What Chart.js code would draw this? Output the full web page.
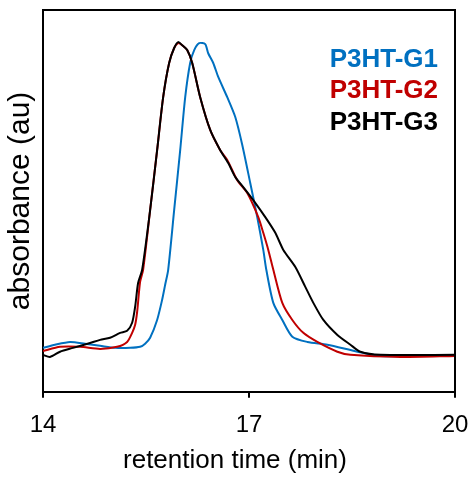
<!DOCTYPE html>
<html>
<head>
<meta charset="utf-8">
<script src="https://cdn.jsdelivr.net/npm/chart.js@4.4.1/dist/chart.umd.min.js"></script>
<style>
  html, body { margin: 0; padding: 0; background: #fff; }
  #wrap { width: 470px; height: 477px; position: relative; }
</style>
</head>
<body>
<div id="wrap"><canvas id="c" width="470" height="477"></canvas></div>
<script>
// ---- data (retention time in min, normalized absorbance) ----
const seriesNames = ['P3HT-G1', 'P3HT-G2', 'P3HT-G3'];
const xTickValues = [14, 17, 20];
const xTitle = 'retention time (min)';
const yTitle = 'absorbance (au)';

const g1Time = [14.000, 14.175, 14.394, 14.612, 14.831, 15.050, 15.269, 15.414, 15.487, 15.560, 15.662, 15.735, 15.779, 15.823, 15.910, 15.998, 16.071, 16.143, 16.202, 16.275, 16.362, 16.406, 16.479, 16.552, 16.683, 16.800, 16.902, 17.018, 17.120, 17.208, 17.252, 17.354, 17.485, 17.631, 17.850, 18.141, 18.579, 18.914, 19.497, 20.000];
const g1Abs  = [0.126, 0.135, 0.143, 0.138, 0.132, 0.126, 0.126, 0.129, 0.138, 0.155, 0.206, 0.264, 0.307, 0.350, 0.521, 0.693, 0.845, 0.943, 0.980, 1.000, 0.997, 0.971, 0.943, 0.903, 0.845, 0.788, 0.708, 0.599, 0.501, 0.407, 0.350, 0.255, 0.206, 0.158, 0.143, 0.135, 0.115, 0.103, 0.103, 0.103];

const g2Time = [14.000, 14.248, 14.540, 14.831, 15.079, 15.225, 15.298, 15.342, 15.371, 15.414, 15.458, 15.560, 15.662, 15.750, 15.837, 15.910, 15.969, 16.027, 16.100, 16.173, 16.289, 16.435, 16.581, 16.683, 16.829, 16.975, 17.135, 17.208, 17.281, 17.354, 17.485, 17.631, 17.791, 17.995, 18.287, 18.477, 19.206, 20.000];
const g2Abs  = [0.117, 0.129, 0.129, 0.123, 0.129, 0.143, 0.169, 0.192, 0.229, 0.315, 0.350, 0.521, 0.693, 0.845, 0.943, 0.986, 1.000, 0.994, 0.980, 0.943, 0.845, 0.751, 0.693, 0.665, 0.607, 0.570, 0.501, 0.456, 0.407, 0.350, 0.255, 0.206, 0.169, 0.143, 0.115, 0.106, 0.100, 0.103];

const g3Time = [14.000, 14.102, 14.248, 14.437, 14.685, 14.831, 14.977, 15.123, 15.225, 15.298, 15.342, 15.385, 15.444, 15.560, 15.662, 15.750, 15.837, 15.910, 15.969, 16.027, 16.100, 16.173, 16.289, 16.435, 16.581, 16.698, 16.800, 16.916, 17.091, 17.237, 17.383, 17.500, 17.675, 17.820, 17.937, 18.083, 18.287, 18.477, 18.622, 18.914, 20.000];
const g3Abs  = [0.106, 0.100, 0.115, 0.126, 0.140, 0.149, 0.155, 0.169, 0.175, 0.198, 0.244, 0.312, 0.350, 0.521, 0.693, 0.845, 0.943, 0.986, 1.003, 0.994, 0.980, 0.943, 0.845, 0.751, 0.693, 0.656, 0.616, 0.587, 0.542, 0.501, 0.456, 0.407, 0.358, 0.301, 0.255, 0.206, 0.163, 0.135, 0.115, 0.106, 0.106];

const colors = ['#0070C0', '#C00000', '#000000'];
const FONT = '"Liberation Sans", Arial, sans-serif';

function pts(t, a) { return t.map((v, i) => ({ x: v, y: a[i] })); }

const datasets = [
  [g1Time, g1Abs], [g2Time, g2Abs], [g3Time, g3Abs]
].map((s, i) => ({
  label: seriesNames[i],
  data: pts(s[0], s[1]),
  borderColor: colors[i],
  backgroundColor: colors[i],
  borderWidth: 2,
  pointRadius: 0,
  fill: false,
  tension: 0.25
}));
datasets.reverse();

const framePlugin = {
  id: 'frame',
  afterDraw(chart) {
    const { ctx, chartArea: a } = chart;
    ctx.save();
    ctx.strokeStyle = '#000';
    ctx.lineWidth = 2;
    ctx.beginPath();
    ctx.moveTo(a.left, a.top);
    ctx.lineTo(a.right, a.top);
    ctx.lineTo(a.right, a.bottom);
    ctx.stroke();
    ctx.font = 'bold 26px ' + FONT;
    ctx.textAlign = 'right';
    ctx.textBaseline = 'alphabetic';
    const ys = [67, 98, 130];
    seriesNames.forEach((n, i) => {
      ctx.fillStyle = colors[i];
      ctx.fillText(n, 438, ys[i]);
    });
    ctx.restore();
  }
};

new Chart(document.getElementById('c'), {
  type: 'line',
  data: { datasets },
  options: {
    responsive: false,
    animation: false,
    events: [],
    layout: { padding: { top: 10, left: 0, right: 0, bottom: 0 } },
    plugins: {
      legend: { display: false },
      tooltip: { enabled: false },
      title: {
        display: true,
        position: 'bottom',
        text: xTitle,
        color: '#000',
        font: { family: FONT, size: 26, weight: 'normal' },
        padding: { top: 0, bottom: 1 }
      }
    },
    scales: {
      x: {
        type: 'linear',
        min: 14, max: 20,
        afterBuildTicks: s => { s.ticks = xTickValues.map(v => ({ value: v })); },
        afterFit: s => { s.height = 53; s.paddingRight = 15; s.paddingLeft = 0; },
        ticks: {
          color: '#000',
          font: { family: FONT, size: 24 },
          padding: 13,
          maxRotation: 0,
          autoSkip: false,
          callback: v => String(v)
        },
        grid: {
          display: true,
          drawOnChartArea: false,
          drawTicks: true,
          tickLength: 6,
          color: '#000',
          lineWidth: 2
        },
        border: { display: true, color: '#000', width: 2 }
      },
      y: {
        min: 0, max: 1.095,
        afterFit: s => { s.width = 43; },
        ticks: { display: false },
        grid: { display: false },
        border: { display: true, color: '#000', width: 2 },
        title: {
          display: true,
          text: yTitle,
          color: '#000',
          font: { family: FONT, size: 30, weight: 'normal' },
          padding: { top: 3, bottom: 0 }
        }
      }
    }
  },
  plugins: [framePlugin]
});
</script>
</body>
</html>
